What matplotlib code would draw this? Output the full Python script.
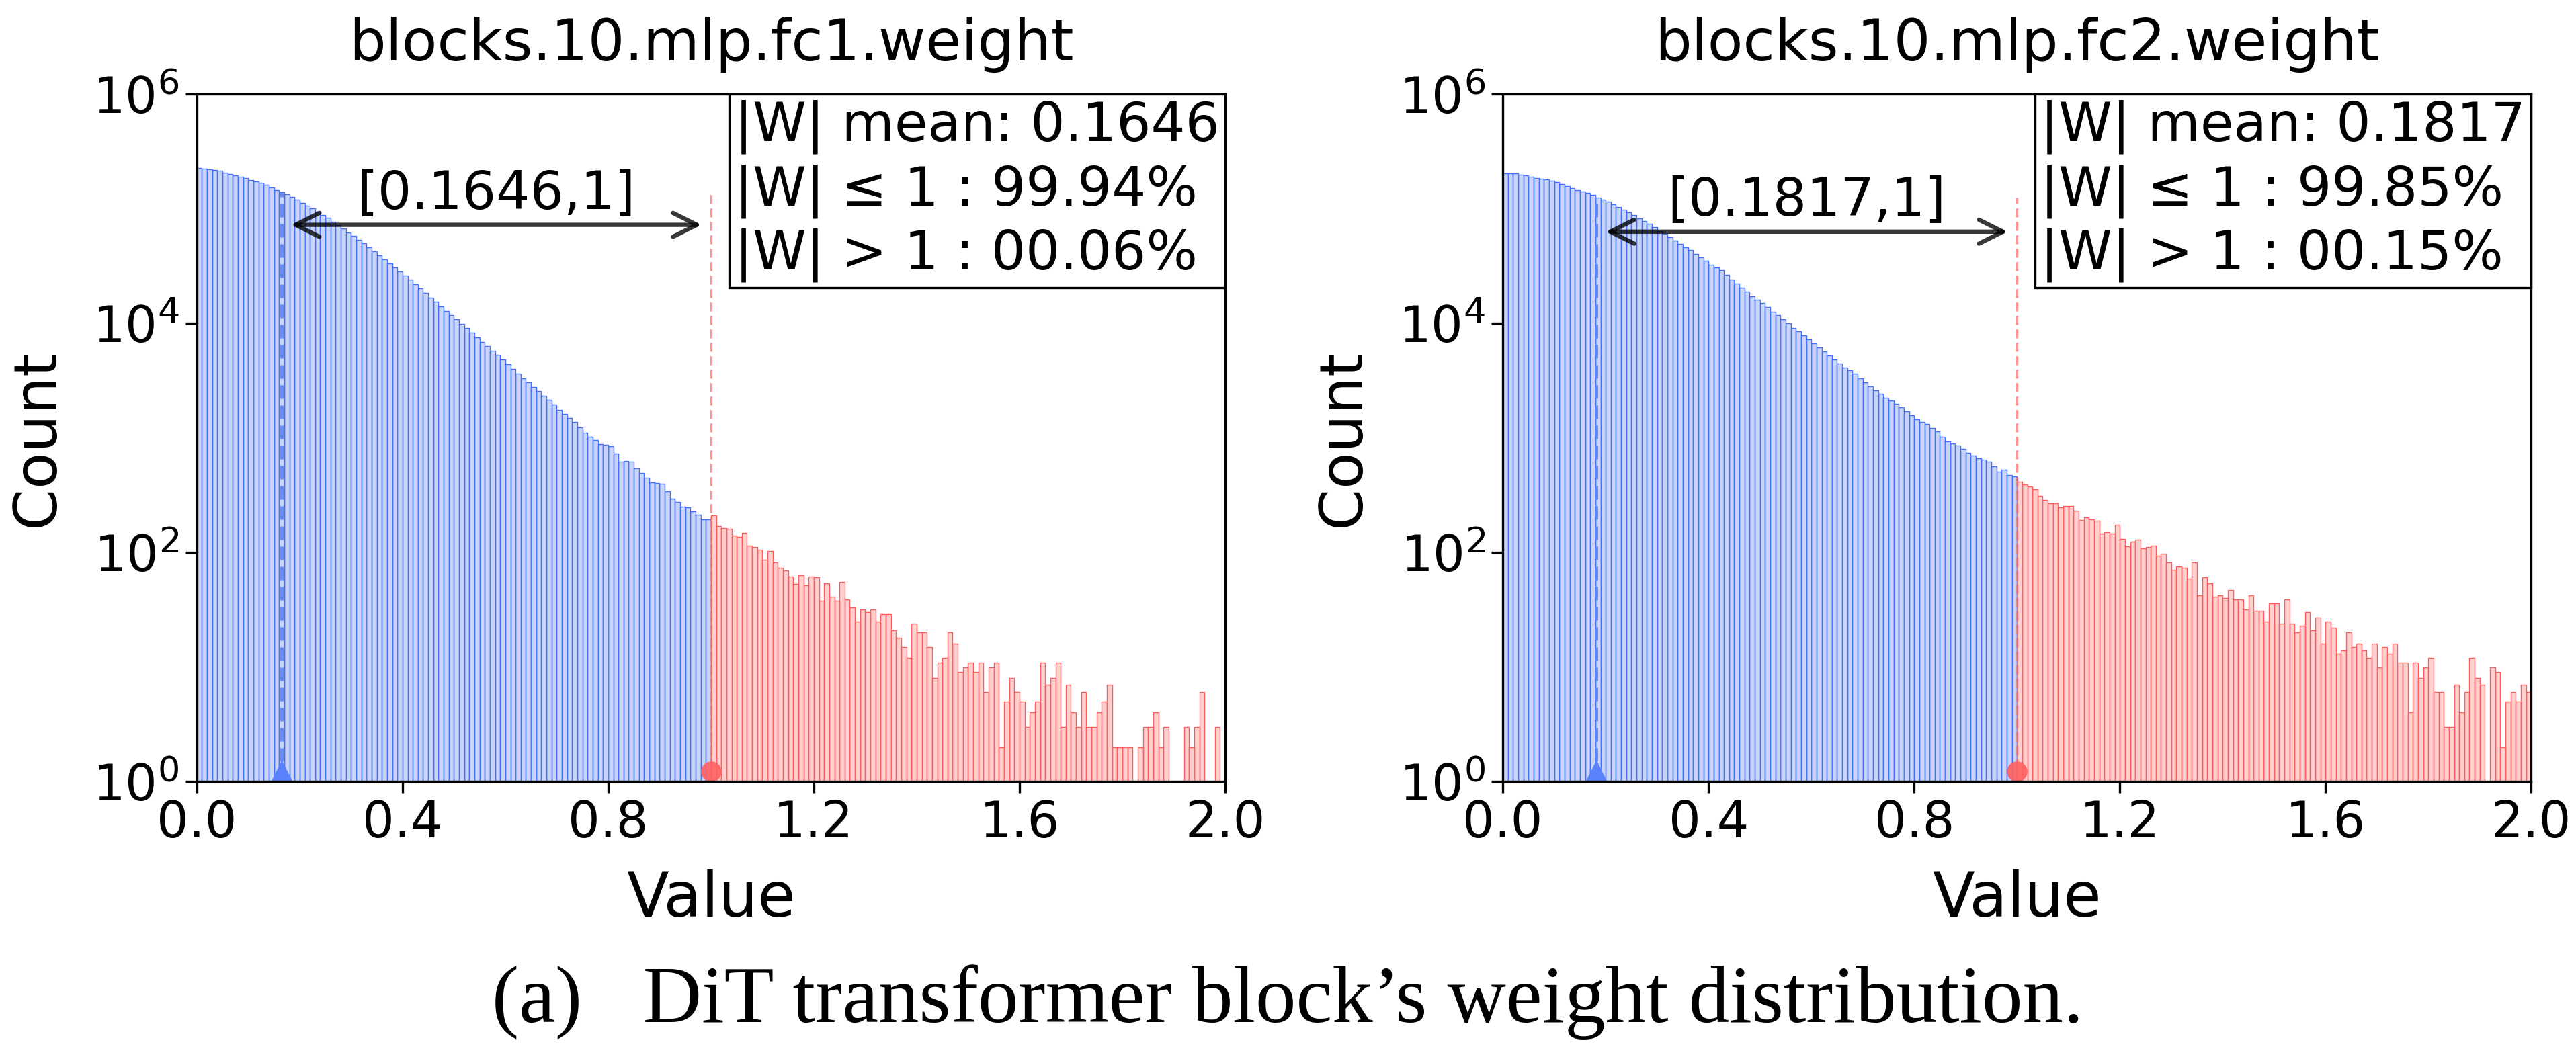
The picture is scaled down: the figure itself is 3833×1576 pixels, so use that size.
import numpy as np
import matplotlib
matplotlib.use("Agg")
import matplotlib.pyplot as plt
from matplotlib.offsetbox import AnchoredText

# histogram of |W|, 200 bins of width 0.01 on [0, 2]
bin_edges = np.linspace(0.0, 2.0, 201)

titles = ["blocks.10.mlp.fc1.weight", "blocks.10.mlp.fc2.weight"]
means = [0.1646, 0.1817]
pct_in = ["99.94%", "99.85%"]
pct_out = ["00.06%", "00.15%"]

# counts for |W| <= 1 (bins 0..99)
fc1_low = [225900, 223900, 221800, 219300, 213800, 208000, 202300, 196800, 191400, 184900,
           178600, 173000, 167900, 162600, 153500, 145200, 140000, 134600, 127100, 119700,
           113000, 106400, 100500, 94620, 88720, 83180, 77450, 72110, 67300, 62370,
           57810, 53700, 49770, 46240, 42660, 39260, 36140, 33340, 30690, 28380,
           26300, 24100, 22030, 20180, 18410, 16830, 15380, 14060, 12850, 11860,
           10910, 9954, 9078, 8279, 7534, 6855, 6295, 5794, 5321, 4853,
           4416, 4018, 3656, 3327, 3048, 2793, 2559, 2339, 2143, 1945,
           1766, 1626, 1496, 1377, 1233, 1104, 1026, 955, 887, 867,
           847, 728, 624, 631, 617, 540, 491, 447, 406, 402,
           397, 343, 296, 275, 251, 248, 229, 213, 193, 193]
# counts for |W| > 1 (bins 100..199)
fc1_high = [211, 170, 164, 161, 141, 137, 149, 115, 112, 106,
            86, 103, 82, 73, 70, 62, 53, 63, 52, 62,
            61, 38, 54, 41, 38, 55, 39, 33, 25, 32,
            30, 32, 25, 29, 29, 21, 18, 15, 12, 24,
            20, 20, 15, 8, 11, 12, 20, 16, 9, 10,
            11, 9, 11, 6, 10, 11, 2, 5, 8, 6,
            5, 3, 4, 5, 11, 7, 8, 11, 3, 7,
            4, 3, 6, 3, 3, 4, 5, 7, 2, 2,
            2, 2, 0, 2, 3, 3, 4, 2, 3, 0,
            0, 0, 3, 2, 3, 6, 0, 0, 3, 0]

fc2_low = [205100, 204200, 203200, 198600, 194500, 190500, 186200, 182800, 179500, 175000,
           170200, 163700, 157000, 151700, 146200, 141900, 137400, 131500, 124700, 119900,
           115100, 109100, 103300, 98170, 93330, 87700, 82410, 78160, 74130, 68870,
           64120, 60390, 56750, 53090, 49660, 46450, 43450, 40550, 37930, 35240,
           32660, 30830, 29040, 26490, 24100, 22230, 20510, 18840, 17300, 16140,
           15030, 13800, 12650, 11750, 10910, 10000, 9183, 8472, 7816, 7211,
           6668, 6152, 5675, 5236, 4831, 4457, 4111, 3873, 3639, 3334,
           3062, 2825, 2606, 2415, 2244, 2113, 1995, 1841, 1698, 1567,
           1449, 1380, 1315, 1225, 1138, 1028, 929, 893, 861, 798,
           741, 703, 667, 643, 621, 562, 509, 530, 474, 458]
fc2_high = [415, 390, 374, 359, 313, 289, 270, 270, 247, 253,
            253, 231, 191, 203, 193, 188, 146, 151, 146, 175,
            132, 113, 125, 129, 109, 111, 115, 94, 97, 82,
            71, 75, 73, 59, 82, 42, 61, 54, 41, 42,
            40, 47, 39, 39, 32, 42, 31, 31, 25, 36,
            36, 24, 39, 24, 20, 23, 30, 21, 27, 16,
            25, 22, 13, 14, 20, 15, 16, 14, 12, 16,
            10, 15, 13, 16, 11, 11, 4, 11, 8, 10,
            12, 6, 6, 3, 3, 7, 4, 6, 12, 8,
            7, 0, 10, 9, 2, 5, 6, 5, 7, 6]

panels = [(fc1_low, fc1_high), (fc2_low, fc2_high)]
arrow_frac = [0.81, 0.80]

blue_face = (0.255, 0.412, 0.882, 0.28)
blue_edge = "#4470ff"
red_face = (1.0, 0.33, 0.33, 0.27)
red_edge = "#ff5c5c"

plt.rcParams["font.family"] = "DejaVu Sans"
fig = plt.figure(figsize=(19.165, 7.88), dpi=200)

axes_rects = [[0.0764, 0.262, 0.3992, 0.649], [0.5834, 0.262, 0.3992, 0.649]]
for k, rect in enumerate(axes_rects):
    ax = fig.add_axes(rect)
    low, high = panels[k]
    counts = np.array(low + high)
    lefts = bin_edges[:-1]
    n_low = len(low)
    ax.bar(lefts[:n_low], counts[:n_low], width=0.01, align="edge",
           facecolor=blue_face, edgecolor=blue_edge, linewidth=0.5)
    ax.bar(lefts[n_low:], counts[n_low:], width=0.01, align="edge",
           facecolor=red_face, edgecolor=red_edge, linewidth=0.5)
    ax.set_yscale("log")
    ax.set_xlim(0, 2)
    ax.set_ylim(1, 1e6)

    m = means[k]
    h_mean = counts[int(m / 0.01)]
    ax.vlines(m, 1, h_mean, colors="#5a82ff", linestyles=(0, (4, 2)), linewidth=1.8, alpha=0.9)
    ax.vlines(1.0, 1, h_mean, colors="#ff7070", linestyles=(0, (4, 2)), linewidth=1.2, alpha=0.75)
    ax.plot([m], [1.23], marker="^", color="#5a82ff", markersize=10, clip_on=False)
    ax.plot([1.0], [1.23], marker="o", color="#ff6262", markersize=10, alpha=0.9, clip_on=False)

    tr = ax.get_xaxis_transform()
    ax.annotate("", xy=(m, arrow_frac[k]), xytext=(1.0, arrow_frac[k]), xycoords=tr, textcoords=tr,
                arrowprops=dict(arrowstyle="<->", color="black", alpha=0.78, lw=2.3,
                                mutation_scale=32, shrinkA=5, shrinkB=5))
    ax.annotate("[%.4f,1]" % m, xy=((m + 1) / 2, arrow_frac[k]), xycoords=tr,
                xytext=(0, 3), textcoords="offset points", ha="center", va="bottom",
                fontsize=28.5)

    box = AnchoredText("|W| mean: %.4f\n|W| \u2264 1 : %s\n|W| > 1 : %s" % (m, pct_in[k], pct_out[k]),
                       loc="upper right", borderpad=0, pad=0.1, frameon=True,
                       prop=dict(size=29, linespacing=1.25))
    box.patch.set_boxstyle("square,pad=0")
    box.patch.set_edgecolor("black")
    box.patch.set_linewidth(1.2)
    ax.add_artist(box)

    ax.set_xticks([0.0, 0.4, 0.8, 1.2, 1.6, 2.0])
    ax.set_xticklabels(["0.0", "0.4", "0.8", "1.2", "1.6", "2.0"])
    ax.set_yticks([1, 1e2, 1e4, 1e6])
    ax.minorticks_off()
    ax.tick_params(labelsize=27, length=6, width=1.2)
    for s in ax.spines.values():
        s.set_linewidth(1.2)
    ax.set_title(titles[k], fontsize=31, pad=18)
    ax.set_xlabel("Value", fontsize=33, labelpad=11)
    ax.set_ylabel("Count", fontsize=32, labelpad=14)

fig.text(0.5, 0.054, "(a)   DiT transformer block\u2019s weight distribution.",
         ha="center", va="center", fontsize=43.5, family="Liberation Serif")

fig.savefig("out.png", dpi=200)
